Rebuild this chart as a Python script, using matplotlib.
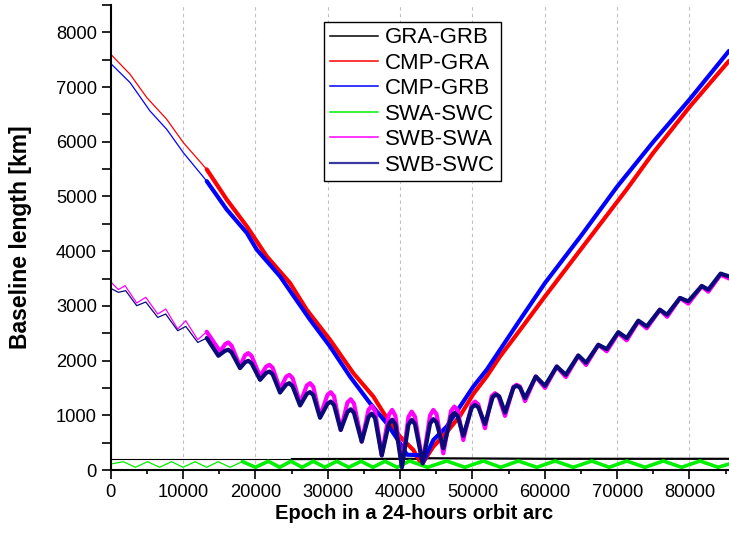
import matplotlib.pyplot as plt
from matplotlib import font_manager
from matplotlib.lines import Line2D
from matplotlib.ticker import MultipleLocator

plt.rcParams['font.family'] = ['Liberation Sans', 'DejaVu Sans']

# epochs [s] and baseline lengths [km]
t_gra_grb = [0, 12000, 25000, 43000, 44000, 60000, 85460]
gra_grb = [200, 200, 200, 205, 215, 205, 205]

t_cmp_gra = [0, 2670, 4980, 7740, 10040, 13270, 16030, 18800, 21560, 24780,
             27090, 30310, 33530, 36300, 38600, 40000, 41830, 42980, 44590,
             46430, 48280, 50120, 51960, 53810, 56580, 60030, 66010, 71320,
             75000, 80030, 85460]
cmp_gra = [7600, 7234, 6808, 6410, 5984, 5495, 4945, 4456, 3907, 3419,
           2930, 2381, 1771, 1343, 855, 610, 366, 100, 427,
           690, 990, 1390, 1709, 2075, 2560, 3174, 4212, 5130,
           5800, 6640, 7478]

t_cmp_grb = [0, 2670, 5430, 7740, 10040, 13270, 16030, 18800, 20180, 23400,
             25240, 27550, 30310, 33070, 35840, 38140, 40000, 40930, 42730,
             43210, 44590, 46430, 48280, 50120, 51960, 53810, 56580, 60030,
             65000, 70000, 75000, 80030, 85460]
cmp_grb = [7430, 7082, 6562, 6227, 5800, 5280, 4762, 4335, 4029, 3540,
           3187, 2747, 2258, 1709, 1221, 855, 490, 280, 270,
           150, 549, 793, 1160, 1526, 1832, 2198, 2747, 3419,
           4280, 5180, 6000, 6777, 7661]

t_swa_swc = [0, 1740, 3400, 5100, 6750, 8400, 10000, 11650, 13250, 14870,
             16500, 18200, 20000, 21790, 23350, 24900, 26450, 28000, 29600,
             31240, 32900, 34600, 36250, 37900, 39600, 41300, 43800, 46430,
             48950, 51500, 53900, 56340, 58900, 61410, 63950, 66490, 68900,
             71320, 73850, 76380, 78900, 81450, 83950, 85460]
swa_swc = [110, 152, 50, 152, 50, 152, 50, 152, 50, 152,
           50, 155, 50, 160, 50, 160, 50, 160, 50,
           160, 50, 160, 50, 160, 50, 165, 50, 165,
           50, 165, 50, 165, 50, 165, 50, 165, 50,
           165, 50, 165, 50, 165, 50, 110]

t_swb_swa = [0, 1050, 1980, 3590, 4840, 6500, 7600, 9260, 10370, 12030,
             13270, 15110, 15810, 16260, 16710, 17870, 18570, 19020, 19470,
             20640, 21480, 21930, 22380, 23400, 24240, 24690, 25140, 26170,
             27100, 27550, 28000, 28930, 29960, 30410, 30860, 31790, 32720,
             33170, 33620, 34690, 35630, 36080, 36530, 37460, 38450, 38900,
             39350, 40250, 41150, 41600, 42050, 43120, 44140, 44590, 45040,
             45970, 47040, 47490, 47940, 48730, 49900, 50350, 50800, 51730,
             52660, 53110, 53560, 54500, 55660, 56110, 56560, 57270, 58750,
             60030, 61650, 62900, 64630, 65700, 67400, 68560, 70160, 71320,
             72930, 74090, 75900, 76900, 78690, 79830, 81690, 82600, 84300,
             85460]
swb_swa = [3440, 3297, 3370, 3053, 3157, 2851, 2943, 2577, 2729, 2381,
           2527, 2167, 2300, 2332, 2270, 1893, 2100, 2137, 2085,
           1710, 1890, 1923, 1870, 1478, 1705, 1740, 1680, 1221,
           1545, 1588, 1520, 976, 1375, 1422, 1350, 733, 1235,
           1294, 1215, 519, 1100, 1172, 1080, 275, 1010, 1099,
           990, 61, 970, 1068, 975, 122, 1000, 1099, 1020,
           305, 1080, 1160, 1100, 549, 1190, 1251, 1200, 763,
           1350, 1404, 1360, 989, 1520, 1557, 1525, 1260, 1709,
           1500, 1892, 1700, 2088, 1920, 2289, 2170, 2503, 2370,
           2717, 2590, 2930, 2800, 3145, 3040, 3357, 3260, 3571,
           3500]

t_swb_swc = [0, 1050, 2070, 3590, 4840, 6500, 7600, 9260, 10370, 12030,
             13270, 14880, 15810, 16260, 16710, 17870, 18570, 19020, 19470,
             20640, 21480, 21930, 22380, 23400, 24240, 24690, 25140, 26170,
             27100, 27550, 28000, 28930, 29960, 30410, 30860, 31790, 32720,
             33170, 33620, 34690, 35630, 36080, 36530, 37460, 38450, 38900,
             39350, 40250, 41150, 41600, 42050, 43120, 44140, 44590, 45040,
             45970, 47040, 47490, 47940, 48730, 49900, 50350, 50800, 51730,
             52800, 53250, 53700, 54500, 55660, 56110, 56560, 57270, 58750,
             60030, 61650, 62900, 64630, 65700, 67400, 68560, 70160, 71320,
             72930, 74090, 75900, 76900, 78690, 79830, 81690, 82600, 84300,
             85460]
swb_swc = [3320, 3248, 3278, 3004, 3071, 2790, 2851, 2546, 2625, 2332,
           2412, 2088, 2180, 2198, 2150, 1862, 1970, 1996, 1950,
           1648, 1775, 1800, 1750, 1416, 1560, 1588, 1530, 1180,
           1390, 1425, 1370, 955, 1210, 1251, 1190, 733, 1060,
           1110, 1045, 519, 970, 1030, 950, 265, 850, 920,
           835, 50, 830, 916, 840, 122, 850, 930, 870,
           397, 980, 1040, 995, 625, 1140, 1190, 1150, 840,
           1335, 1380, 1345, 1050, 1505, 1540, 1510, 1313, 1709,
           1540, 1892, 1740, 2095, 1960, 2289, 2210, 2520, 2412,
           2730, 2625, 2930, 2839, 3145, 3083, 3365, 3297, 3590,
           3540]

labels = ["GRA-GRB", "CMP-GRA", "CMP-GRB", "SWA-SWC", "SWB-SWA", "SWB-SWC"]
colors = ["black", "#ff0000", "#0000ff", "#00f000", "#ff00ff", "#0a0a78"]

# the original uses a narrow Arial for ticks and the x label
installed = {f.name for f in font_manager.fontManager.ttflist}
if 'Liberation Sans Narrow' in installed:
    narrow, tick_size, xlab_size = 'Liberation Sans Narrow', 14.5, 17.5
else:
    narrow, tick_size, xlab_size = 'Liberation Sans', 13.2, 14.5


# thin line for the sparse start of a series, thick line afterwards
def plot_two(ax, t, v, split, color, lw_thin, lw_thick):
    k = next(i for i, x in enumerate(t) if x >= split)
    ax.plot(t[:k + 1], v[:k + 1], color=color, lw=lw_thin, solid_joinstyle='round')
    ax.plot(t[k:], v[k:], color=color, lw=lw_thick, solid_joinstyle='round',
            solid_capstyle='round')


fig = plt.figure(figsize=(7.29, 5.42), dpi=100)
ax = fig.add_axes([0.1519, 0.1328, 0.8481, 0.858])

plot_two(ax, t_gra_grb, gra_grb, 25000, colors[0], 0.8, 1.6)
plot_two(ax, t_cmp_gra, cmp_gra, 13270, colors[1], 0.9, 3.0)
plot_two(ax, t_cmp_grb, cmp_grb, 13270, colors[2], 0.9, 3.0)
plot_two(ax, t_swa_swc, swa_swc, 18200, colors[3], 0.9, 2.6)
plot_two(ax, t_swb_swa, swb_swa, 13270, colors[4], 0.9, 3.0)
plot_two(ax, t_swb_swc, swb_swc, 13270, colors[5], 0.9, 3.0)

ax.set_xlim(0, 85460)
ax.set_ylim(0, 8500)
ax.xaxis.set_major_locator(MultipleLocator(10000))
ax.xaxis.set_minor_locator(MultipleLocator(5000))
ax.yaxis.set_major_locator(MultipleLocator(1000))
ax.yaxis.set_minor_locator(MultipleLocator(500))
ax.tick_params(axis='both', which='major', direction='out', length=6.5, width=1.2,
               labelsize=tick_size)
ax.tick_params(axis='x', which='minor', direction='out', length=3, width=1.2)
ax.tick_params(axis='y', which='minor', direction='out', length=6.5, width=1.2)
for lab in ax.get_xticklabels() + ax.get_yticklabels():
    lab.set_family(narrow)

for side in ['top', 'right']:
    ax.spines[side].set_visible(False)
for side in ['left', 'bottom']:
    ax.spines[side].set_linewidth(1.5)

ax.grid(True, axis='x', which='major', color='#c0c0c0', linestyle=(0, (3, 3)), lw=0.8)

ax.set_xlabel("Epoch in a 24-hours orbit arc", fontsize=xlab_size, fontweight='bold',
              family=narrow)
ax.set_ylabel("Baseline length [km]", fontsize=16.5, fontweight='bold')
ax.xaxis.set_label_coords(0.49, -0.072)
ax.yaxis.set_label_coords(-0.128, 0.5)

handles = [Line2D([], [], color=c, lw=1.1) for c in colors]
handles[5] = Line2D([], [], color="#3a3aa0", lw=1.6)
leg = ax.legend(handles, labels, loc='upper left', bbox_to_anchor=(0.345, 0.964),
                fontsize=16, frameon=True, fancybox=False, framealpha=1,
                edgecolor='black', handlelength=2.2, labelspacing=0.2,
                borderpad=0.25, handletextpad=0.3, borderaxespad=0)
leg.get_frame().set_linewidth(1.0)

fig.savefig("out.png", dpi=100)
